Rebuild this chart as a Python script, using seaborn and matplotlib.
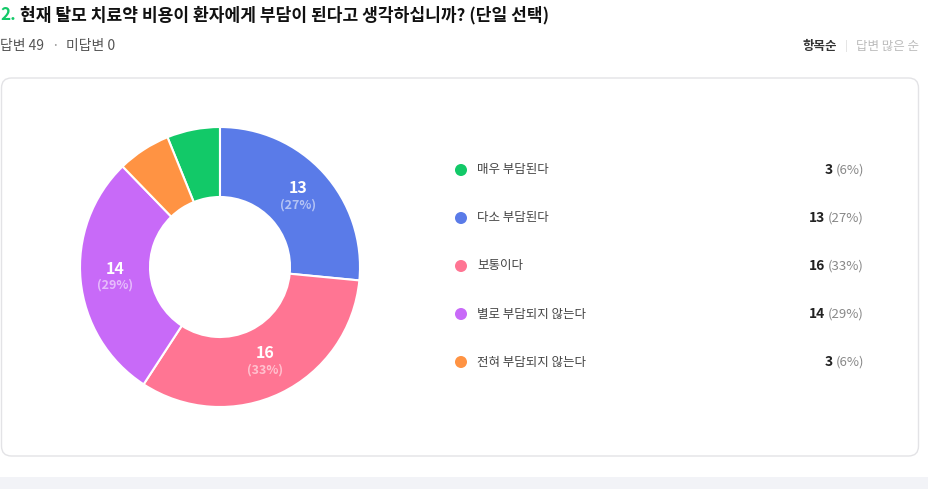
import numpy as np
import matplotlib.pyplot as plt
import seaborn as sns
from matplotlib.patches import FancyBboxPatch, Rectangle

# data
labels = ["매우 부담된다", "다소 부담된다", "보통이다", "별로 부담되지 않는다", "전혀 부담되지 않는다"]
counts = [3, 13, 16, 14, 3]
colors = ["#12C968", "#5A7BE8", "#FF7593", "#C86AF8", "#FF9343"]

title_num = "2."
title_text = "현재 탈모 치료약 비용이 환자에게 부담이 된다고 생각하십니까? (단일 선택)"
answered = 49
unanswered = 0

sns.set_theme(style="white")
plt.rcParams["font.family"] = ["Noto Sans CJK KR", "DejaVu Sans"]

W, H = 929, 501
fig = plt.figure(figsize=(W / 100, H / 100), dpi=100)
fig.patch.set_facecolor("white")

# overlay axes in pixel coordinates
bg = fig.add_axes([0, 0, 1, 1])
bg.set_xlim(0, W)
bg.set_ylim(H, 0)
bg.axis("off")

# card + bottom band
bg.add_patch(FancyBboxPatch((1.5, 78), 917, 378, boxstyle="round,pad=0,rounding_size=10",
                            facecolor="white", edgecolor="#E3E3E6", linewidth=1))
bg.add_patch(Rectangle((0, 477), W, 12, facecolor="#F2F3F7", edgecolor="none"))

# header
bg.text(0, 15, title_num, color="#12C968", fontsize=12.3, fontweight="bold", va="center", ha="left")
bg.text(20, 15, title_text, color="#111111", fontsize=12.3, fontweight="bold", va="center", ha="left")
bg.text(0, 46, f"답변 {answered}", color="#555555", fontsize=10, fontweight="medium", va="center", ha="left")
bg.text(55, 46, "·", color="#999999", fontsize=10, va="center", ha="center")
bg.text(66, 46, f"미답변 {unanswered}", color="#555555", fontsize=10, fontweight="medium", va="center", ha="left")
bg.text(837, 46, "항목순", color="#333333", fontsize=9, fontweight="bold", va="center", ha="right")
bg.text(846, 46, "|", color="#DDDDDD", fontsize=8, va="center", ha="center")
bg.text(919, 46, "답변 많은 순", color="#BBBBBB", fontsize=9, va="center", ha="right")

# donut: clockwise, first slice ending at 12 o'clock
total = sum(counts)
pcts = [round(c / total * 100) for c in counts]
start = 90 + counts[0] / total * 360
ax = fig.add_axes([80 / W, (H - 407) / H, 280 / W, 280 / H])
wedges, _ = ax.pie(counts, colors=sns.color_palette(colors), startangle=start, counterclock=False,
                   radius=1, wedgeprops=dict(width=0.5, edgecolor="white", linewidth=1.5))
ax.set_xlim(-1, 1)
ax.set_ylim(-1, 1)
ax.set_aspect("equal")
ax.axis("off")

for w, c, p in zip(wedges, counts, pcts):
    if p < 10:
        continue
    ang = np.deg2rad((w.theta1 + w.theta2) / 2)
    x, y = 0.75 * np.cos(ang), 0.75 * np.sin(ang)
    ax.text(x, y + 0.06, str(c), color="white", fontsize=11.5, fontweight="bold", ha="center", va="center")
    ax.text(x, y - 0.06, f"({p}%)", color="white", alpha=0.55, fontsize=9, fontweight="bold",
            ha="center", va="center")

# legend
ys = [170, 218, 266, 314, 362]
fig.canvas.draw()
inv = bg.transData.inverted()
for lab, c, p, col, y in zip(labels, counts, pcts, colors, ys):
    bg.scatter([461], [y], s=75, color=col, edgecolor="none")
    bg.text(477, y, lab, color="#444444", fontsize=9, fontweight="medium", va="center", ha="left")
    pt = bg.text(864, y, f"({p}%)", color="#888888", fontsize=9.5, va="center", ha="right")
    bb = pt.get_window_extent(renderer=fig.canvas.get_renderer())
    x_left = inv.transform((bb.x0, bb.y0))[0]
    bg.text(x_left - 3, y, str(c), color="#222222", fontsize=10, fontweight="bold", va="center", ha="right")

fig.savefig("out.png", dpi=100)
